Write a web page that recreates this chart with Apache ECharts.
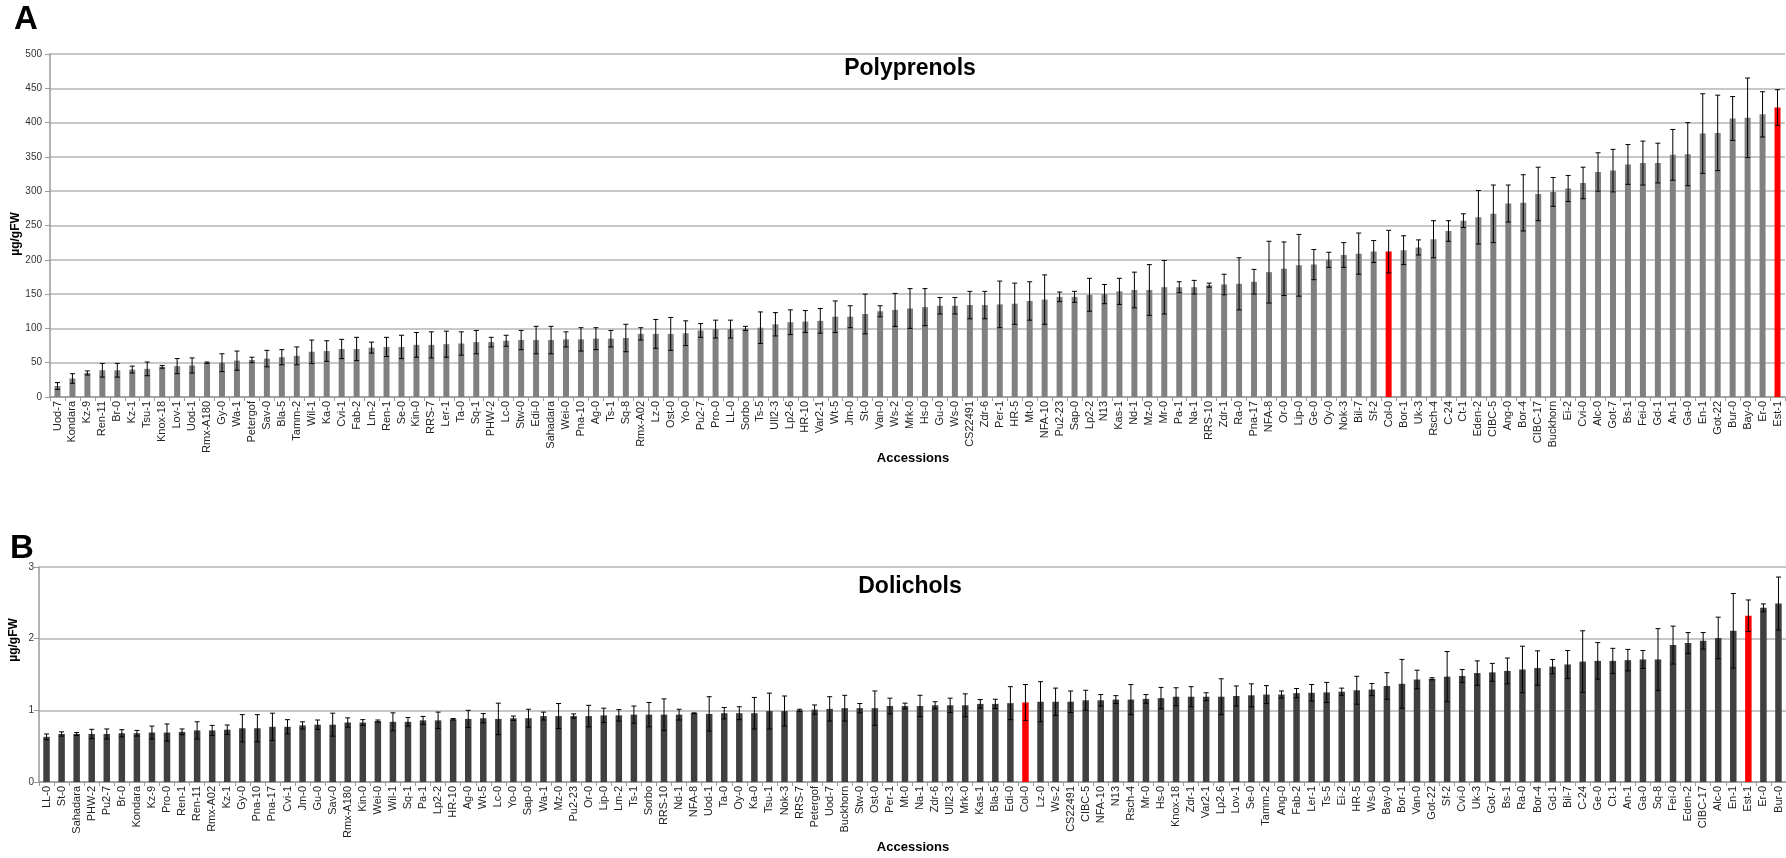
<!DOCTYPE html>
<html>
<head>
<meta charset="utf-8">
<style>
  html, body { margin: 0; padding: 0; background: #ffffff; }
  #chart { width: 1786px; height: 858px; }
</style>
<script src="https://cdn.jsdelivr.net/npm/echarts@6/dist/echarts.min.js"></script>
</head>
<body>
<div id="chart"></div>
<script>
// Panel A: polyprenol content per accession (µg/gFW), mean and error
const catsA = ['Uod-7','Kondara','Kz-9','Ren-11','Br-0','Kz-1','Tsu-1','Knox-18','Lov-1','Uod-1','Rmx-A180','Gy-0','Wa-1','Petergof','Sav-0','Bla-5','Tamm-2','Wil-1','Ka-0','Cvi-1','Fab-2','Lm-2','Ren-1',
  'Se-0','Kin-0','RRS-7','Ler-1','Ta-0','Sq-1','PHW-2','Lc-0','Stw-0','Edi-0','Sahadara','Wei-0','Pna-10','Ag-0','Ts-1','Sq-8','Rmx-A02','Lz-0','Ost-0','Yo-0','Pu2-7','Pro-0','LL-0','Sorbo',
  'Ts-5','Ull2-3','Lp2-6','HR-10','Var2-1','Wt-5','Jm-0','St-0','Van-0','Ws-2','Mrk-0','Hs-0','Gu-0','Ws-0','CS22491','Zdr-6','Per-1','HR-5','Mt-0','NFA-10','Pu2-23','Sap-0','Lp2-2',
  'N13','Kas-1','Nd-1','Mz-0','Mr-0','Pa-1','Na-1','RRS-10','Zdr-1','Ra-0','Pna-17','NFA-8','Or-0','Lip-0','Ge-0','Oy-0','Nok-3','Bil-7','Sf-2','Col-0','Bor-1','Uk-3','Rsch-4',
  'C-24','Ct-1','Eden-2','CIBC-5','Ang-0','Bor-4','CIBC-17','Buckhorn','Ei-2','Cvi-0','Alc-0','Got-7','Bs-1','Fei-0','Gd-1','An-1','Ga-0','En-1','Got-22','Bur-0','Bay-0','Er-0','Est-1'];
const valsA = [16,27,35,39,39,40,41,44,45,46,50,50,53,54,56,58,60,66,67,70,70,72,73,
  73,76,76,77,78,80,80,82,83,83,83,84,84,85,85,86,92,92,92,93,97,99,99,100,
  101,106,109,110,111,117,117,121,125,127,129,131,133,133,134,134,135,136,140,142,146,146,149,
  150,154,156,156,160,160,160,163,164,165,168,182,187,192,193,200,207,209,212,212,214,218,230,
  242,257,262,267,282,283,296,299,304,312,328,330,339,341,341,353,354,384,385,406,407,412,422];
const errA = [5,7,3,10,10,5,10,2,11,11,1,13,14,4,12,11,13,17,15,14,17,8,14,
  17,18,19,19,17,17,7,8,14,20,20,11,17,16,12,20,9,21,24,18,10,13,13,3,
  23,17,18,16,18,23,16,29,8,24,29,27,12,12,20,20,34,30,28,36,7,8,24,
  14,19,26,37,39,8,10,3,15,38,18,45,39,45,22,11,18,30,16,31,21,11,27,
  15,10,39,42,27,41,39,21,19,23,28,31,29,32,29,37,46,58,55,32,58,33,26];

// Panel B: dolichol content per accession (µg/gFW), mean and error
const catsB = ['LL-0','St-0','Sahadara','PHW-2','Pu2-7','Br-0','Kondara','Kz-9','Pro-0','Ren-1','Ren-11','Rmx-A02','Kz-1','Gy-0','Pna-10','Pna-17','Cvi-1','Jm-0','Gu-0','Sav-0','Rmx-A180','Kin-0','Wei-0','Wil-1',
  'Sq-1','Pa-1','Lp2-2','HR-10','Ag-0','Wt-5','Lc-0','Yo-0','Sap-0','Wa-1','Mz-0','Pu2-23','Or-0','Lip-0','Lm-2','Ts-1','Sorbo','RRS-10','Nd-1','NFA-8','Uod-1','Ta-0','Oy-0',
  'Ka-0','Tsu-1','Nok-3','RRS-7','Petergof','Uod-7','Buckhorn','Stw-0','Ost-0','Per-1','Mt-0','Na-1','Zdr-6','Ull2-3','Mrk-0','Kas-1','Bla-5','Edi-0','Col-0','Lz-0','Ws-2','CS22491','CIBC-5',
  'NFA-10','N13','Rsch-4','Mr-0','Hs-0','Knox-18','Zdr-1','Var2-1','Lp2-6','Lov-1','Se-0','Tamm-2','Ang-0','Fab-2','Ler-1','Ts-5','Ei-2','HR-5','Ws-0','Bay-0','Bor-1','Van-0','Got-22',
  'Sf-2','Cvi-0','Uk-3','Got-7','Bs-1','Ra-0','Bor-4','Gd-1','Bil-7','C-24','Ge-0','Ct-1','An-1','Ga-0','Sq-8','Fei-0','Eden-2','CIBC-17','Alc-0','En-1','Est-1','Er-0','Bur-0'];
const valsB = [0.63,0.67,0.67,0.67,0.67,0.68,0.68,0.69,0.69,0.70,0.72,0.72,0.73,0.75,0.75,0.77,0.77,0.79,0.80,0.80,0.83,0.83,0.85,0.84,
  0.84,0.86,0.86,0.875,0.88,0.89,0.88,0.89,0.89,0.92,0.92,0.92,0.92,0.93,0.93,0.94,0.94,0.94,0.94,0.96,0.95,0.96,0.96,
  0.96,0.99,0.99,1.00,1.01,1.02,1.03,1.03,1.03,1.06,1.06,1.06,1.07,1.07,1.07,1.09,1.09,1.10,1.11,1.12,1.12,1.12,1.14,
  1.14,1.15,1.15,1.16,1.17,1.19,1.19,1.19,1.19,1.20,1.21,1.22,1.22,1.24,1.245,1.25,1.26,1.28,1.29,1.34,1.37,1.43,1.44,
  1.47,1.48,1.52,1.53,1.55,1.57,1.59,1.61,1.64,1.68,1.69,1.69,1.70,1.71,1.71,1.91,1.94,1.97,2.01,2.11,2.32,2.43,2.49];
const errB = [0.04,0.03,0.02,0.065,0.07,0.05,0.04,0.09,0.12,0.04,0.12,0.07,0.065,0.19,0.19,0.19,0.10,0.05,0.065,0.16,0.065,0.04,0.015,0.125,
  0.06,0.055,0.115,0.01,0.12,0.065,0.22,0.03,0.125,0.055,0.175,0.03,0.15,0.10,0.08,0.12,0.17,0.22,0.075,0.005,0.24,0.08,0.09,
  0.22,0.25,0.21,0.015,0.065,0.17,0.18,0.065,0.24,0.11,0.04,0.15,0.05,0.10,0.16,0.06,0.065,0.23,0.25,0.28,0.19,0.15,0.14,
  0.08,0.055,0.21,0.06,0.15,0.125,0.14,0.055,0.25,0.14,0.16,0.125,0.05,0.065,0.115,0.14,0.05,0.195,0.085,0.185,0.34,0.13,0.015,
  0.35,0.09,0.17,0.125,0.18,0.325,0.24,0.10,0.195,0.43,0.255,0.175,0.15,0.125,0.43,0.265,0.145,0.115,0.29,0.52,0.22,0.055,0.37];

const ticksA = { min: 0, max: 500, interval: 50 };
const ticksB = { min: 0, max: 3, interval: 1 };
const highlighted = ['Col-0', 'Est-1'];

const FONT = '"Liberation Sans", Arial, sans-serif';
const GRID_COLOR = '#b4b4b4';

function barData(cats, vals, baseColor) {
  return vals.map((v, i) => ({
    value: v,
    itemStyle: { color: highlighted.includes(cats[i]) ? '#ff0000' : baseColor }
  }));
}

function errData(vals, errs) {
  return vals.map((v, i) => [i, v, errs[i]]);
}

function renderErr(params, api) {
  const i = api.value(0), v = api.value(1), e = api.value(2);
  const top = api.coord([i, v + e]);
  const bot = api.coord([i, Math.max(0, v - e)]);
  const half = 2.5;
  const style = { stroke: '#000', lineWidth: 1 };
  return {
    type: 'group',
    children: [
      { type: 'line', shape: { x1: top[0], y1: top[1], x2: bot[0], y2: bot[1] }, style },
      { type: 'line', shape: { x1: top[0] - half, y1: top[1], x2: top[0] + half, y2: top[1] }, style },
      { type: 'line', shape: { x1: bot[0] - half, y1: bot[1], x2: bot[0] + half, y2: bot[1] }, style }
    ]
  };
}

function catAxis(gridIndex, cats) {
  return {
    type: 'category', gridIndex, data: cats,
    axisLine: { lineStyle: { color: '#9a9a9a', width: 1.5 } },
    axisTick: { show: true, length: 4, interval: 0, lineStyle: { color: '#9a9a9a' } },
    axisLabel: { interval: 0, rotate: 90, fontSize: 11, color: '#222', margin: 4, fontFamily: FONT },
    splitLine: { show: false }
  };
}

function valAxis(gridIndex, t, margin) {
  return {
    type: 'value', gridIndex, min: t.min, max: t.max, interval: t.interval,
    axisLine: { show: true, lineStyle: { color: '#9a9a9a', width: 1.5 } },
    axisTick: { show: true, length: 5, lineStyle: { color: '#9a9a9a' } },
    axisLabel: { fontSize: 10, color: '#333', margin, fontFamily: FONT },
    splitLine: { lineStyle: { color: GRID_COLOR, width: 1.5 } }
  };
}

function text(x, y, str, size, opts) {
  return Object.assign({
    type: 'text', x, y,
    style: { text: str, font: 'bold ' + size + 'px ' + FONT, fill: '#000', textAlign: 'center', textVerticalAlign: 'middle' }
  }, opts || {});
}

const chart = echarts.init(document.getElementById('chart'), null, { renderer: 'canvas' });
chart.setOption({
  animation: false,
  backgroundColor: '#ffffff',
  grid: [
    { left: 50, top: 54, width: 1735, height: 343 },
    { left: 39, top: 567, width: 1747, height: 215 }
  ],
  xAxis: [catAxis(0, catsA), catAxis(1, catsB)],
  yAxis: [valAxis(0, ticksA, 8), valAxis(1, ticksB, 5)],
  series: [
    { type: 'bar', xAxisIndex: 0, yAxisIndex: 0, barWidth: 6, data: barData(catsA, valsA, '#808080') },
    { type: 'custom', xAxisIndex: 0, yAxisIndex: 0, renderItem: renderErr, data: errData(valsA, errA), z: 5 },
    { type: 'bar', xAxisIndex: 1, yAxisIndex: 1, barWidth: 6.5, data: barData(catsB, valsB, '#404040') },
    { type: 'custom', xAxisIndex: 1, yAxisIndex: 1, renderItem: renderErr, data: errData(valsB, errB), z: 5 }
  ],
  graphic: [
    text(26, 20, 'A', 33),
    text(22, 549, 'B', 33),
    text(910, 69, 'Polyprenols', 23),
    text(910, 587, 'Dolichols', 23),
    text(913, 458, 'Accessions', 13),
    text(913, 847, 'Accessions', 13),
    text(16, 234, 'µg/gFW', 12, { rotation: Math.PI / 2 }),
    text(14, 640, 'µg/gFW', 12, { rotation: Math.PI / 2 })
  ]
});
</script>
</body>
</html>
